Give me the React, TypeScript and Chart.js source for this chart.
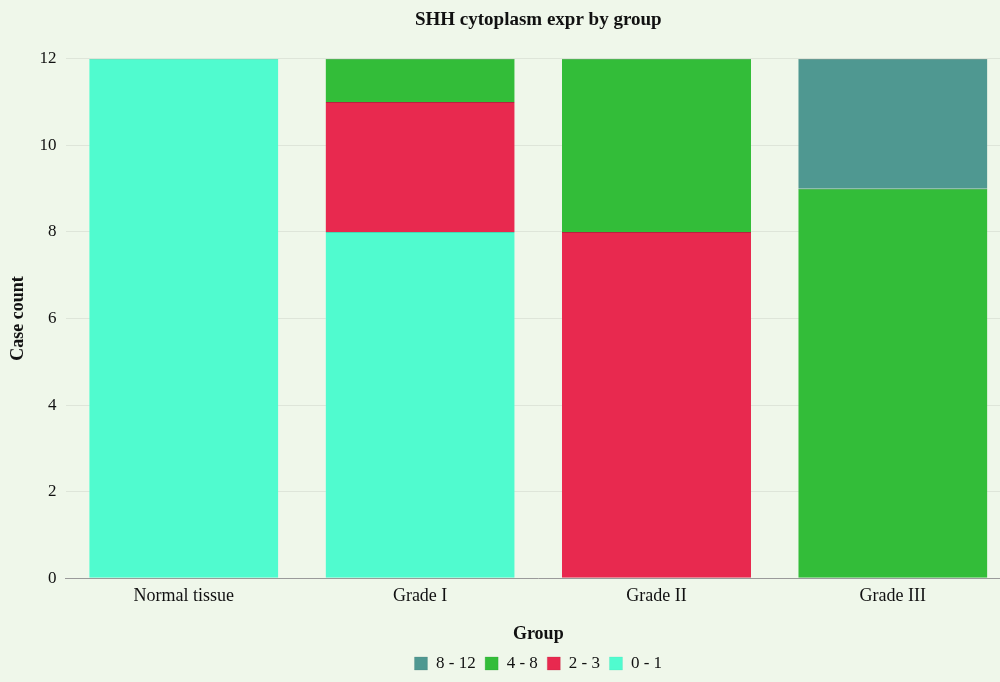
import React, { useEffect, useRef } from "react";
import { Chart, registerables } from "chart.js";

Chart.register(...registerables);

const categories = ["Normal tissue", "Grade I", "Grade II", "Grade III"];
const series01 = [12, 8, 0, 0];
const series23 = [0, 3, 8, 0];
const series48 = [0, 1, 4, 9];
const series812 = [0, 0, 0, 3];
const yTicks = [0, 2, 4, 6, 8, 10, 12];

const FONT = "'Liberation Serif', 'DejaVu Serif', serif";

export default function App() {
  const ref = useRef<HTMLCanvasElement | null>(null);

  useEffect(() => {
    document.body.style.margin = "0";
    document.body.style.overflow = "hidden";
    const ctx = ref.current;
    if (!ctx) return;
    const mk = (label: string, data: number[], color: string, border: string) => ({
      label,
      data,
      backgroundColor: color,
      borderColor: border,
      borderWidth: { top: 1, left: 0, right: 0, bottom: 0 },
      borderSkipped: false as const,
      categoryPercentage: 1,
      barPercentage: 0.8,
    });
    const chart = new Chart(ctx, {
      type: "bar",
      data: {
        labels: categories,
        datasets: [
          mk("0 - 1", series01, "#50fbcf", "#46d9b3"),
          mk("2 - 3", series23, "#e8294f", "#b8233f"),
          mk("4 - 8", series48, "#33bd39", "#2a9a30"),
          mk("8 - 12", series812, "#4f9891", "#477f79"),
        ],
      },
      options: {
        responsive: false,
        animation: false,
        layout: { padding: { left: 4, right: 1, top: 0, bottom: 0 } },
        scales: {
          x: {
            stacked: true,
            grid: { display: false, drawTicks: false },
            border: { display: true, color: "#9a9a9a", width: 1 },
            ticks: { color: "#111", font: { family: FONT, size: 18 }, padding: 7 },
            title: {
              display: true,
              text: "Group",
              color: "#111",
              font: { family: FONT, size: 18, weight: "bold" },
              padding: { top: 10, bottom: 0 },
            },
          },
          y: {
            stacked: true,
            min: 0,
            max: 12,
            afterBuildTicks: (axis: any) => {
              axis.ticks = yTicks.map((v) => ({ value: v }));
            },
            grid: { color: "rgba(0,0,0,0.07)", drawTicks: false },
            border: { display: false },
            ticks: { color: "#111", font: { family: FONT, size: 17 }, padding: 9 },
            title: {
              display: true,
              text: "Case count",
              color: "#111",
              font: { family: FONT, size: 18, weight: "bold" },
              padding: { top: 4, bottom: 1 },
            },
          },
        },
        plugins: {
          title: {
            display: true,
            text: "SHH cytoplasm expr by group",
            color: "#111",
            fullSize: false,
            font: { family: FONT, size: 19, weight: "bold" },
            padding: { top: 9, bottom: 27 },
          },
          legend: {
            position: "bottom",
            reverse: true,
            fullSize: false,
            labels: {
              color: "#111",
              font: { family: FONT, size: 17 },
              boxWidth: 13,
              boxHeight: 13,
              padding: 9.5,
            },
          },
          tooltip: { enabled: false },
        },
      },
    });
    return () => chart.destroy();
  }, []);

  return (
    <div
      style={{
        position: "fixed",
        left: 0,
        top: 0,
        width: 1000,
        height: 682,
        overflow: "hidden",
        background: "#eff7ea",
      }}
    >
      <canvas ref={ref} width={1012} height={682} style={{ display: "block" }} />
    </div>
  );
}
